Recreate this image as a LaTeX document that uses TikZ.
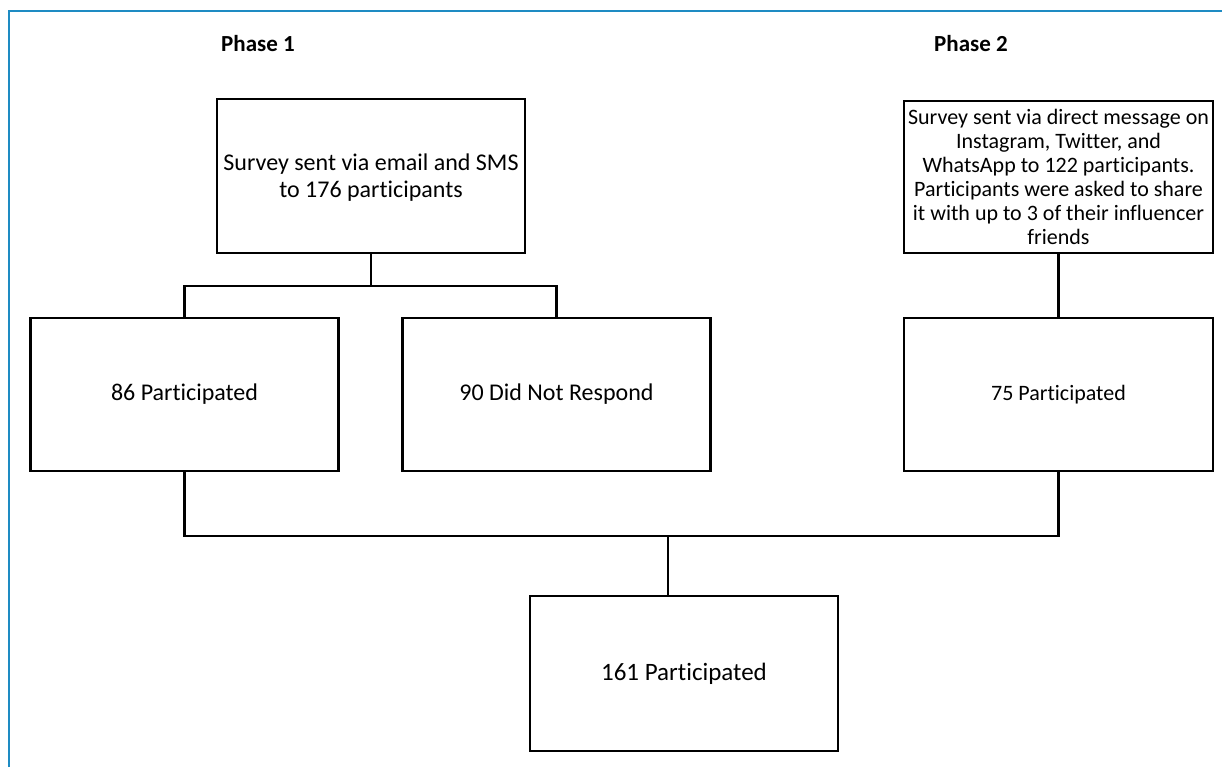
\documentclass[tikz,border=0pt]{standalone}
\usepackage{fontspec}
\setmainfont{Carlito}[Ligatures=NoCommon]
\usepackage{xcolor}
\usepackage{tikz}
\usetikzlibrary{calc}
\definecolor{frameblue}{HTML}{1E8BC3}

\begin{document}
\begin{tikzpicture}[x=0.5pt, y=-0.5pt,
  box/.style={draw, line width=1.1pt, minimum width=154pt, minimum height=76.5pt, inner sep=1pt, align=center, font=\fontsize{12}{13.5}\selectfont},
  link/.style={line width=1.1pt},
  phase/.style={font=\fontsize{11.5}{14}\selectfont\bfseries}]
  \useasboundingbox (0,0) rectangle (1222,767);
  % frame
  \draw[frameblue, line width=1.2pt] (9,767) -- (9,11) -- (1222,11);
  % Phase 1
  \node[phase] (ph1) at (258,44) {Phase 1};
  \node[box, minimum height=77pt, text depth=-2pt] (email) at (371,176) {Survey sent via email and SMS\\to 176 participants};
  \node[box] (part1) at (184.5,394.5) {86 Participated};
  \node[box] (noresp) at (556.5,394.5) {90 Did Not Respond};
  % Phase 2
  \node[phase] (ph2) at (971,44) {Phase 2};
  \node[box, minimum width=154.5pt, minimum height=76pt, font=\fontsize{11}{12}\selectfont] (dm) at (1058.5,177)
    {Survey sent via direct message on\\Instagram, Twitter, and\\WhatsApp to 122 participants.\\Participants were asked to share\\it with up to 3 of their influencer\\friends};
  \node[box, minimum width=154.5pt, font=\fontsize{11}{13}\selectfont] (part2) at (1058.5,394.5) {75 Participated};
  % total
  \node[box, minimum height=77.5pt, font=\fontsize{12.5}{14}\selectfont] (total) at (684,673.5) {161 Participated};
  % connectors
  \coordinate (split) at ($(email.south)+(0,32)$);
  \coordinate (join) at (668,536);
  \draw[link] (email.south) -- (split);
  \draw[link] (part1.north) |- (split) -| (noresp.north);
  \draw[link] (dm.south) -- (part2.north);
  \draw[link] (part1.south) |- (join) -| (part2.south);
  \draw[link] (join) -- (join |- total.north);
\end{tikzpicture}
\end{document}
